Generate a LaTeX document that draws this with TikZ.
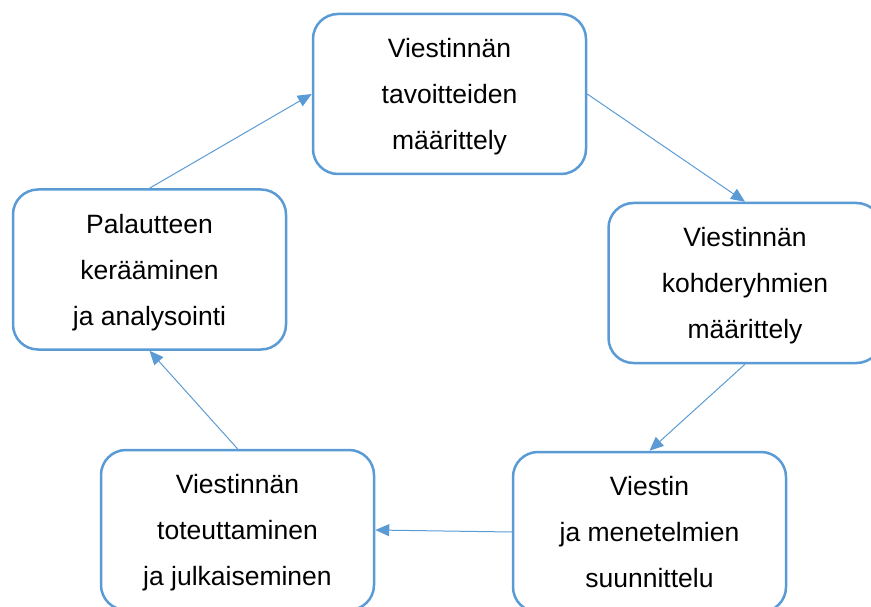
\documentclass[tikz,border=0pt]{standalone}
\usepackage{fontspec}
\setmainfont{Liberation Sans}
\usetikzlibrary{arrows.meta}
\definecolor{boxblue}{HTML}{5B9BD5}
\begin{document}
\begin{tikzpicture}[x=1pt,y=-1pt,
  stepbox/.style={draw=boxblue, line width=2.5pt, rounded corners=25pt, fill=white,
    minimum width=273pt, minimum height=160pt, inner sep=0pt, align=center,
    text depth=-7pt,
    font=\fontsize{26.5}{46}\selectfont},
  flow/.style={draw=boxblue, line width=1pt, -{Triangle[length=14pt,width=12pt]}}]
\useasboundingbox (0,0) rectangle (871,607);
\clip (0,0) rectangle (871,607);
\node[stepbox] (top) at (449.5,94) {Viestinnän\\tavoitteiden\\määrittely};
\node[stepbox] (right) at (745,283) {Viestinnän\\kohderyhmien\\määrittely};
\node[stepbox] (br) at (649.5,532) {Viestin\\ja menetelmien\\suunnittelu};
\node[stepbox] (bl) at (237.5,530) {Viestinnän\\toteuttaminen\\ja julkaiseminen};
\node[stepbox] (left) at (149.5,269.5) {Palautteen\\kerääminen\\ja analysointi};
\draw[flow] (top.east) -- (right.north);
\draw[flow] (right.south) -- (br.north);
\draw[flow] (br.west) -- (bl.east);
\draw[flow] (bl.north) -- (left.south);
\draw[flow] (left.north) -- (top.west);
\end{tikzpicture}
\end{document}
